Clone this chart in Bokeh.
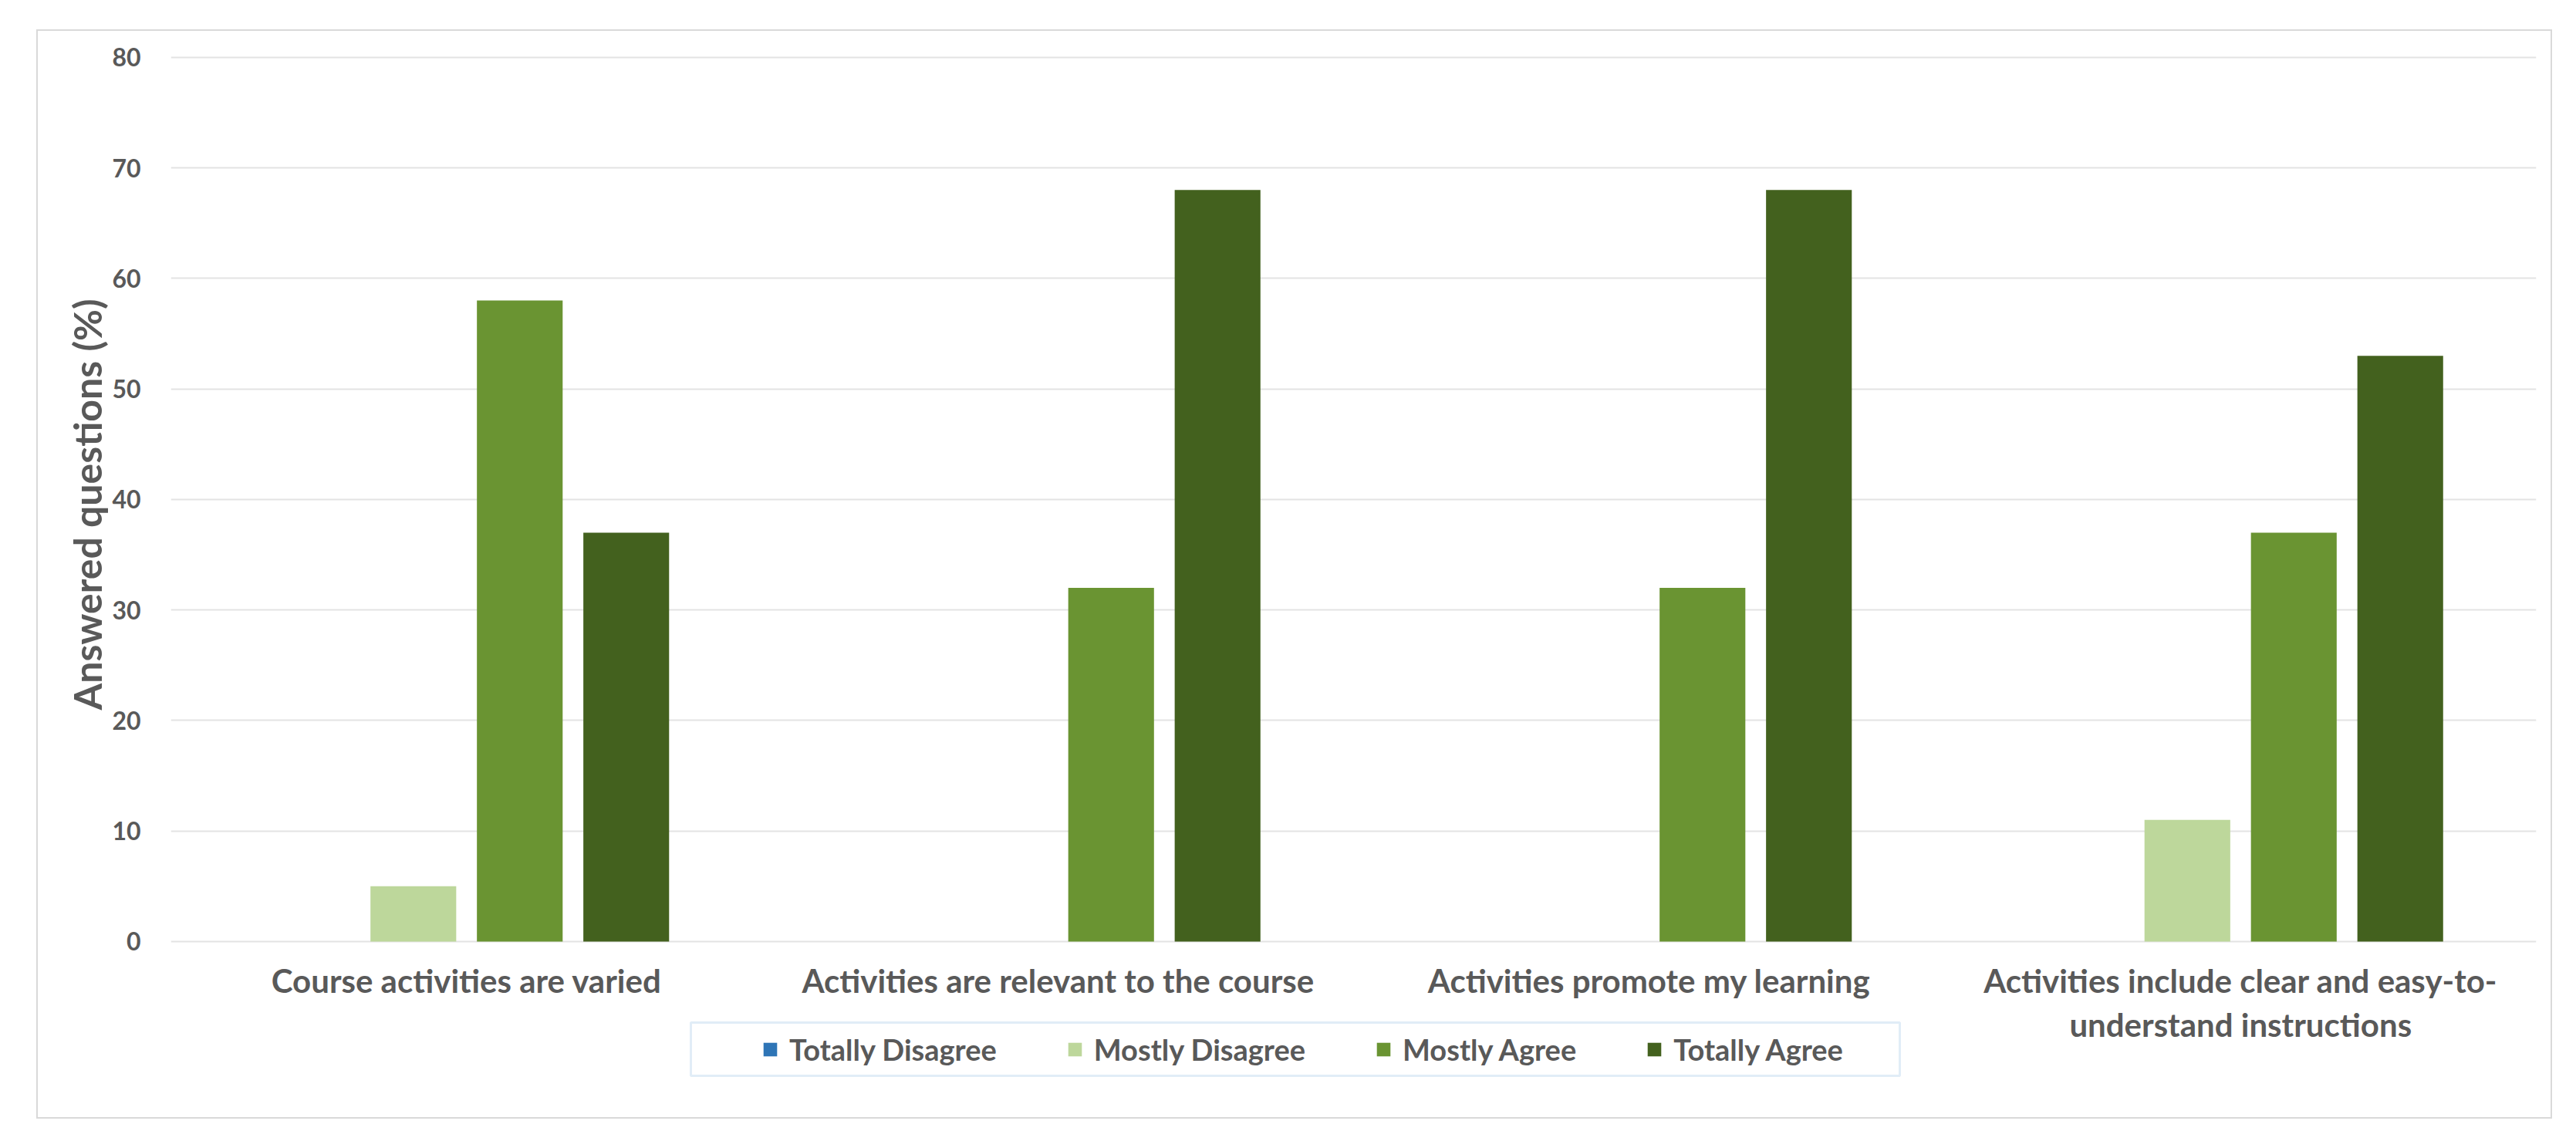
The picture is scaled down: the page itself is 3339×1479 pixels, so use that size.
from bokeh.plotting import figure
from bokeh.models import (FactorRange, Range1d, Legend, LegendItem, FixedTicker,
                          ColumnDataSource, BoxAnnotation, Title)
from bokeh.core.properties import value
from bokeh.transform import dodge
from bokeh.embed import file_html
from bokeh.resources import INLINE

# ---- data ----
categories = [
    "Course activities are varied",
    "Activities are relevant to the course",
    "Activities promote my learning",
    "Activities include clear and easy-to-\nunderstand instructions",
]
series_names = ["Totally Disagree", "Mostly Disagree", "Mostly Agree", "Totally Agree"]
totally_disagree = [0, 0, 0, 0]
mostly_disagree = [5, 0, 0, 11]
mostly_agree = [58, 32, 32, 37]
totally_agree = [37, 68, 68, 53]
y_ticks = [0, 10, 20, 30, 40, 50, 60, 70, 80]

colors = ["#2E75B6", "#BDD79B", "#6A9432", "#43611E"]
offsets = [-0.27, -0.09, 0.09, 0.27]
TXT = "#595959"
FONT = "Lato"

src = ColumnDataSource(dict(
    cat=categories,
    base=[0] * len(categories),
    td=totally_disagree,
    md=mostly_disagree,
    ma=mostly_agree,
    ta=totally_agree,
))
keys = ["td", "md", "ma", "ta"]

W, H = 3261, 1412
p = figure(
    x_range=FactorRange(factors=categories, range_padding=0),
    y_range=Range1d(-15.5, 80.2),
    width=W, height=H,
    output_backend="svg", toolbar_location=None,
    min_border_left=172, min_border_right=23,
    min_border_top=31, min_border_bottom=10,
)
p.margin = (38, 0, 0, 47)
p.styles = {"border": "2px solid #D9D9D9"}

renderers = []
for k, c, off in zip(keys, colors, offsets):
    r = p.vbar(x=dodge("cat", off, range=p.x_range), top=k, width=0.145,
               source=src, fill_color=c, line_color=None)
    renderers.append(r)

# category labels under the zero line
p.text(x="cat", y="base", text="cat", source=src, y_offset=26,
       text_align="center", text_baseline="top",
       text_font=value(FONT), text_font_style="bold", text_font_size="42px",
       text_color=TXT, text_line_height=1.13)

# axes
p.xaxis.visible = False
p.yaxis.ticker = FixedTicker(ticks=y_ticks)
p.yaxis.major_label_text_font = FONT
p.yaxis.major_label_text_font_style = "bold"
p.yaxis.major_label_text_font_size = "32px"
p.yaxis.major_label_text_color = TXT
p.yaxis.major_label_standoff = 33
p.yaxis.axis_line_color = None
p.yaxis.major_tick_line_color = None
p.yaxis.minor_tick_line_color = None

p.add_layout(Title(text="Answered questions (%)", align="left", offset=522,
                   standoff=0, text_font=FONT, text_font_size="50px",
                   text_font_style="bold", text_color=TXT), "left")

p.ygrid.grid_line_color = "#E3E3E3"
p.ygrid.grid_line_width = 2
p.xgrid.grid_line_color = None
p.outline_line_color = None

# legend
legend = Legend(
    items=[LegendItem(label=n, renderers=[r]) for n, r in zip(series_names, renderers)],
    orientation="horizontal",
    location=(753, 46),
    glyph_width=22, glyph_height=22,
    label_standoff=14, spacing=90, padding=13, margin=0,
    border_line_alpha=0, background_fill_alpha=0,
    label_text_font=FONT, label_text_font_style="bold",
    label_text_font_size="38px", label_text_color=TXT,
)
p.add_layout(legend, "center")
p.add_layout(BoxAnnotation(left=674, right=2241, top=117, bottom=48,
                           left_units="screen", right_units="screen",
                           top_units="screen", bottom_units="screen",
                           fill_alpha=0, line_color="#9DC3E6", line_width=3))

open("out.html", "w").write(file_html(p, INLINE))
